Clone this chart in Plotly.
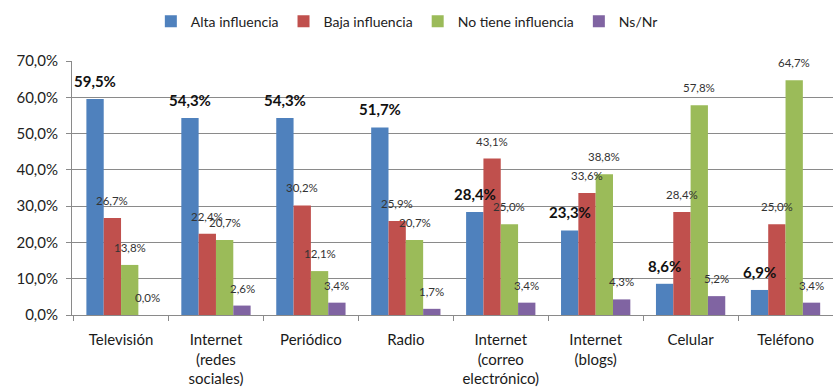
import plotly.graph_objects as go

categories = ["Televisión", "Internet<br>(redes<br>sociales)", "Periódico", "Radio",
              "Internet<br>(correo<br>electrónico)", "Internet<br>(blogs)", "Celular", "Teléfono"]
series_names = ["Alta influencia", "Baja influencia", "No tiene influencia", "Ns/Nr"]
alta = [59.5, 54.3, 54.3, 51.7, 28.4, 23.3, 8.6, 6.9]
baja = [26.7, 22.4, 30.2, 25.9, 43.1, 33.6, 28.4, 25.0]
no_tiene = [13.8, 20.7, 12.1, 20.7, 25.0, 38.8, 57.8, 64.7]
nsnr = [0.0, 2.6, 3.4, 1.7, 3.4, 4.3, 5.2, 3.4]
colors = ["#4F81BD", "#C0504D", "#9BBB59", "#8064A2"]
y_ticks = [0, 10, 20, 30, 40, 50, 60, 70]
y_tick_labels = ["0,0%", "10,0%", "20,0%", "30,0%", "40,0%", "50,0%", "60,0%", "70,0%"]

series = [alta, baja, no_tiene, nsnr]

W, H = 833, 388
ML, MR, MT, MB = 72, 0, 61, 73
BARGAP = 0.27
FONT = "Lato"

fig = go.Figure()
for name, vals, col in zip(series_names, series, colors):
    fig.add_trace(go.Bar(name=name, x=categories, y=vals, marker_color=col,
                         marker_line_width=0))

# data labels, placed over each bar of the group
plot_w = W - ML - MR
cat_w = plot_w / len(categories)
bar_w = cat_w * (1 - BARGAP) / len(series)
for i, vals in enumerate(series):
    for cat, v in zip(categories, vals):
        txt = f"{v:.1f}".replace(".", ",") + "%"
        big = i == 0
        fig.add_annotation(x=cat, y=v, text=("<b>" + txt + "</b>") if big else txt,
                           xref="x", yref="y", showarrow=False,
                           xshift=(i - 1.5) * bar_w, yshift=7 if big else 9,
                           yanchor="bottom", xanchor="center",
                           font=dict(family=FONT, size=15 if big else 11.5,
                                     color="#111" if big else "#333"))

fig.update_layout(
    width=W, height=H,
    margin=dict(l=ML, r=MR, t=MT, b=MB, autoexpand=False),
    barmode="group", bargap=BARGAP, bargroupgap=0,
    plot_bgcolor="white", paper_bgcolor="white",
    font=dict(family=FONT, color="#222"),
    legend=dict(orientation="h", x=0.44, xanchor="center", y=1.155, yanchor="middle",
                font=dict(family=FONT, size=14, color="#222"), itemwidth=30,
                traceorder="normal"),
    showlegend=True,
)
fig.update_yaxes(range=[0, 70], tickvals=y_ticks, ticktext=y_tick_labels,
                 showgrid=True, gridcolor="#8a8a8a", gridwidth=1,
                 showline=True, linecolor="#8a8a8a", linewidth=1,
                 ticks="outside", ticklen=5, tickcolor="#8a8a8a",
                 ticklabelstandoff=5,
                 tickfont=dict(family=FONT, size=15, color="#222"), zeroline=False)
fig.update_xaxes(showline=True, linecolor="#8a8a8a", linewidth=1,
                 ticks="outside", ticklen=5, tickcolor="#8a8a8a", tickson="boundaries",
                 tickfont=dict(family=FONT, size=15, color="#1a1a1a"),
                 ticklabelstandoff=11)

fig.write_html("out.html")
